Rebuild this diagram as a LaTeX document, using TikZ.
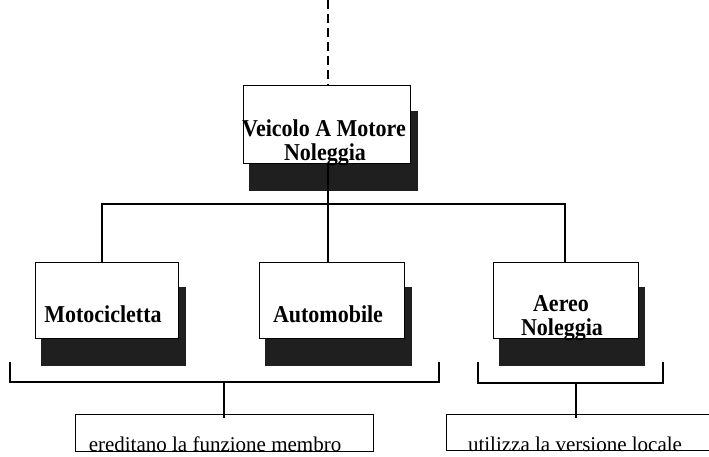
\documentclass[tikz,border=0pt]{standalone}
\usepackage{fontspec}
\setmainfont{Liberation Serif}
\begin{document}
\begin{tikzpicture}[x=1pt,y=-1pt,
  line width=1.3pt,
  boxst/.style={draw=black, fill=white, line width=1.3pt, inner sep=0pt, anchor=north west},
  shadowst/.style={fill=black!88, draw=none, inner sep=0pt, anchor=north west},
  bigtxt/.style={font=\fontsize{22}{24}\selectfont\bfseries, inner sep=0pt, anchor=base},
  smalltxt/.style={font=\fontsize{21}{24}\selectfont, inner sep=0pt, anchor=base, text depth=0pt},
  conn/.style={draw=black, line width=1.3pt}
]
\useasboundingbox (0,0) rectangle (709,457);
% shadows
\node[shadowst, minimum width=169pt, minimum height=80pt] (s0) at (248,110) {};
\node[shadowst, minimum width=145pt, minimum height=79pt] (s1) at (40,286) {};
\node[shadowst, minimum width=147pt, minimum height=79pt] (s2) at (264,286) {};
\node[shadowst, minimum width=146pt, minimum height=79pt] (s3) at (498,286) {};
% boxes
\node[boxst, minimum width=167pt, minimum height=78pt] (b0) at (243,85) {};
\node[boxst, minimum width=143pt, minimum height=76pt] (b1) at (35,262) {};
\node[boxst, minimum width=145pt, minimum height=76pt] (b2) at (259,262) {};
\node[boxst, minimum width=145pt, minimum height=76pt] (b3) at (493,262) {};
% texts
\node[bigtxt] (t0a) at (324,137) {\scalebox{1}[1.1]{Veicolo A Motore}};
\node[bigtxt] (t0b) at (325,161) {\scalebox{1}[1.1]{Noleggia}};
\node[bigtxt] (t1) at (103,322) {\scalebox{1}[1.1]{Motocicletta}};
\node[bigtxt] (t2) at (328,322) {\scalebox{1}[1.1]{Automobile}};
\node[bigtxt] (t3a) at (561,311) {\scalebox{1}[1.1]{Aereo}};
\node[bigtxt] (t3b) at (562,335) {\scalebox{1}[1.1]{Noleggia}};
% dashed line
\coordinate (top) at (328,0);
\draw[conn, dash pattern=on 9pt off 5pt] (top) -- (b0.north -| top);
% tree
\coordinate (j0) at (328,204);
\coordinate (jl) at (102,204);
\coordinate (jr) at (565,204);
\draw[conn] (b0.south -| j0) -- (j0);
\draw[conn] (b1.north -| jl) -- (jl) -- (jr) -- (b3.north -| jr);
\draw[conn] (j0) -- (b2.north -| j0);
% bottom boxes
\node[boxst, minimum width=298pt, minimum height=37pt] (n1) at (75,414) {};
\begin{scope}
\clip (0,0) rectangle (709,457);
\node[boxst, minimum width=300pt, minimum height=36pt] (n2) at (446,414) {};
\end{scope}
% brackets
\coordinate (la) at (10,362);
\coordinate (lb) at (10,382);
\coordinate (lc) at (439,382);
\coordinate (ld) at (439,362);
\coordinate (lm) at (224,382);
\coordinate (lmm) at (224,418);
\draw[conn] (la) -- (lb) -- (lc) -- (ld);
\draw[conn] (lm) -- (lmm);
\coordinate (ra) at (478,362);
\coordinate (rb) at (478,383);
\coordinate (rc) at (663,383);
\coordinate (rd) at (663,362);
\coordinate (rm) at (576,383);
\coordinate (rmm) at (576,418);
\draw[conn] (ra) -- (rb) -- (rc) -- (rd);
\draw[conn] (rm) -- (rmm);
% bottom texts
\node[smalltxt] (u1) at (215,451) {ereditano la funzione membro};
\node[smalltxt] (u2) at (575,451) {utilizza la versione locale};
\end{tikzpicture}
\end{document}
